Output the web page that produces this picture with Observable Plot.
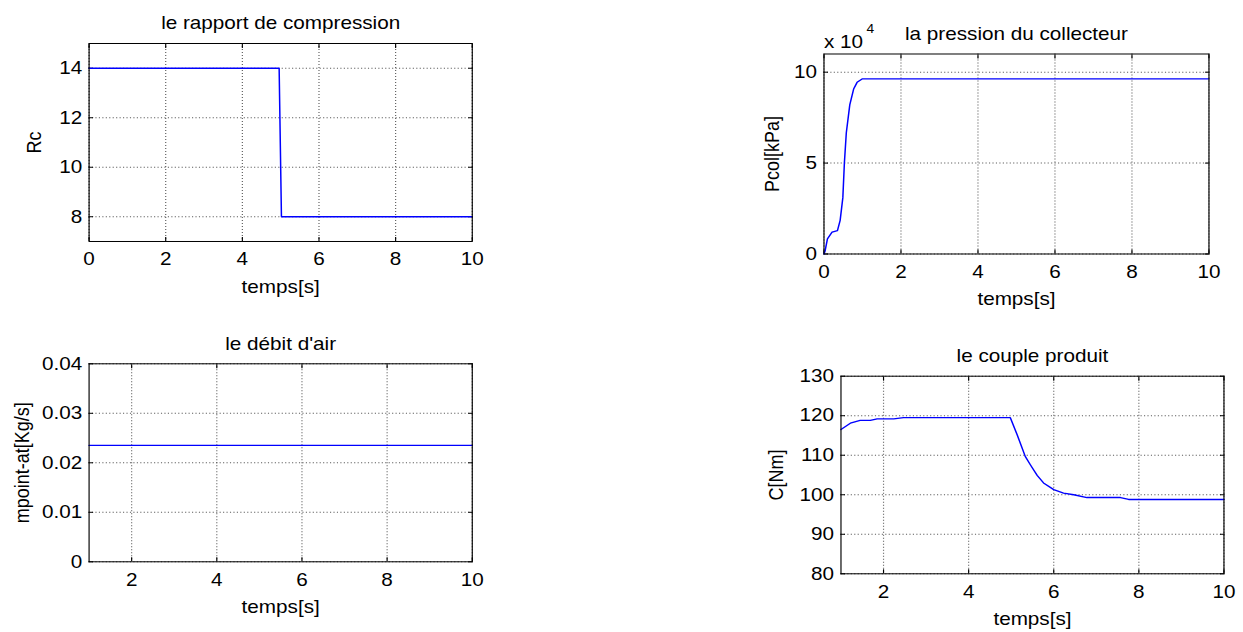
<!DOCTYPE html>
<html><head><meta charset="utf-8">
<script src="https://cdn.jsdelivr.net/npm/d3@7"></script>
<script src="https://cdn.jsdelivr.net/npm/@observablehq/plot@0.6"></script>
<style>
html,body{margin:0;padding:0;background:#fff;}
#fig{position:relative;width:1243px;height:632px;overflow:hidden;background:#fff;}
#stage{position:absolute;left:0;top:0;height:632px;transform-origin:0 0;}
.panel{position:absolute;}
</style></head><body><div id="fig"><div id="stage"></div></div>
<script>
// ---- data ----
const xLabel = "temps[s]";

const rcTitle = "le rapport de compression";
const rcYLabel = "Rc";
const rcTime = [0, 4.96, 5.02, 10];
const rcValue = [14, 14, 8, 8];
const rcXTicks = [0, 2, 4, 6, 8, 10];
const rcYTicks = [8, 10, 12, 14];

const pTitle = "la pression du collecteur";
const pYLabel = "Pcol[kPa]";
const pExponent = "4";
const pTime = [0, 0.03, 0.09, 0.21, 0.35, 0.42, 0.49, 0.53, 0.58, 0.67, 0.77, 0.86, 0.99, 10];
const pValue = [0, 1800, 8300, 12000, 12900, 18500, 31000, 50000, 66700, 82000, 90700, 94400, 96300, 96300];
const pXTicks = [0, 2, 4, 6, 8, 10];
const pYTicks = [0, 50000, 100000];

const aTitle = "le débit d'air";
const aYLabel = "mpoint-at[Kg/s]";
const aTime = [1, 10];
const aValue = [0.0235, 0.0235];
const aXTicks = [2, 4, 6, 8, 10];
const aYTicks = [0, 0.01, 0.02, 0.03, 0.04];

const cTitle = "le couple produit";
const cYLabel = "C[Nm]";
const cTime = [1, 1.22, 1.45, 1.69, 1.85, 2.24, 2.47, 4.98, 5.14, 5.33, 5.45, 5.61, 5.76, 6.0, 6.23, 6.47, 6.78, 7.57, 7.76, 10];
const cValue = [116.5, 118.1, 118.8, 118.8, 119.2, 119.2, 119.5, 119.5, 115.2, 109.7, 107.6, 104.9, 103.0, 101.3, 100.4, 100.0, 99.3, 99.3, 98.8, 98.8];
const cXTicks = [2, 4, 6, 8, 10];
const cYTicks = [80, 90, 100, 110, 120, 130];

// ---- layout ----
const S = 1.15; // horizontal stretch of the original figure
const stage = document.getElementById("stage");
stage.style.width = (1243 / S) + "px";
stage.style.transform = `scaleX(${S})`;

function panel(o) {
  const [L, T, W, H] = o.box;
  const [fx0, fy0, fx1, fy1] = o.frame;
  const data = o.xs.map((x, i) => ({x, y: o.ys[i]}));
  const grid = {stroke: "#333", strokeOpacity: 0.8, strokeDasharray: "1,2", strokeWidth: 1};
  const marks = [
    Plot.gridX(o.xTicks, grid),
    Plot.gridY(o.yTicks, grid),
    Plot.axisX(o.xTicks, {anchor: "bottom", tickSize: 0, tickPadding: 11, label: null, tickFormat: d => String(d)}),
    Plot.axisY(o.yTicks, {anchor: "left", tickSize: 0, tickPadding: 6, label: null, tickFormat: o.yFormat}),
    Plot.axisX(o.xTicks, {anchor: "bottom", tickSize: -4, label: null, tickFormat: () => ""}),
    Plot.axisX(o.xTicks, {anchor: "top", tickSize: -4, label: null, tickFormat: () => ""}),
    Plot.axisY(o.yTicks, {anchor: "left", tickSize: -4, label: null, tickFormat: () => ""}),
    Plot.axisY(o.yTicks, {anchor: "right", tickSize: -4, label: null, tickFormat: () => ""}),
    Plot.line(data, {x: "x", y: "y", stroke: "#0000ff", strokeWidth: 1.3}),
    Plot.frame({stroke: "#000", strokeWidth: 1}),
    Plot.text([o.title], {frameAnchor: "top", dy: -14, lineAnchor: "bottom"}),
    Plot.text([xLabel], {frameAnchor: "bottom", dy: 38.5, lineAnchor: "top"}),
    Plot.text([o.yLabel], {frameAnchor: "left", dx: -o.yLabelOffset, rotate: -90, lineAnchor: "top", textAnchor: "middle"}),
    ...(o.extra || [])
  ];
  const svg = Plot.plot({
    width: W / S, height: H,
    marginLeft: (fx0 - L) / S, marginRight: (L + W - fx1) / S,
    marginTop: fy0 - T, marginBottom: T + H - fy1,
    style: {fontFamily: "'Liberation Sans', Arial, sans-serif", fontSize: "18px", color: "#000", background: "transparent", overflow: "visible"},
    x: {domain: o.xDomain},
    y: {domain: o.yDomain},
    marks
  });
  const div = document.createElement("div");
  div.className = "panel";
  div.style.left = (L / S) + "px";
  div.style.top = T + "px";
  div.appendChild(svg);
  stage.appendChild(div);
}

panel({
  box: [0, 0, 520, 310], frame: [88.5, 43, 471.7, 241],
  xDomain: [0, 10], yDomain: [7, 15], xTicks: rcXTicks, yTicks: rcYTicks,
  yFormat: d => String(d), xs: rcTime, ys: rcValue,
  title: rcTitle, yLabel: rcYLabel, yLabelOffset: 55
});

panel({
  box: [720, 0, 520, 310], frame: [823.5, 53.5, 1208.5, 253.5],
  xDomain: [0, 10], yDomain: [0, 110000], xTicks: pXTicks, yTicks: pYTicks,
  yFormat: d => String(d / 1e4), xs: pTime, ys: pValue,
  title: pTitle, yLabel: pYLabel, yLabelOffset: 52,
  extra: [
    Plot.text(["x 10"], {frameAnchor: "top-left", textAnchor: "start", dy: -5.5, lineAnchor: "bottom"}),
    Plot.text([pExponent], {frameAnchor: "top-left", textAnchor: "start", dx: 37, dy: -21, lineAnchor: "bottom", fontSize: 12})
  ]
});

panel({
  box: [0, 310, 520, 322], frame: [88.5, 363.3, 471.7, 561.3],
  xDomain: [1, 10], yDomain: [0, 0.04], xTicks: aXTicks, yTicks: aYTicks,
  yFormat: d => d === 0 ? "0" : d.toFixed(2), xs: aTime, ys: aValue,
  title: aTitle, yLabel: aYLabel, yLabelOffset: 65
});

panel({
  box: [720, 310, 523, 322], frame: [840.5, 375.7, 1223.5, 573.3],
  xDomain: [1, 10], yDomain: [80, 130], xTicks: cXTicks, yTicks: cYTicks,
  yFormat: d => String(d), xs: cTime, ys: cValue,
  title: cTitle, yLabel: cYLabel, yLabelOffset: 63
});
</script>
</body></html>
